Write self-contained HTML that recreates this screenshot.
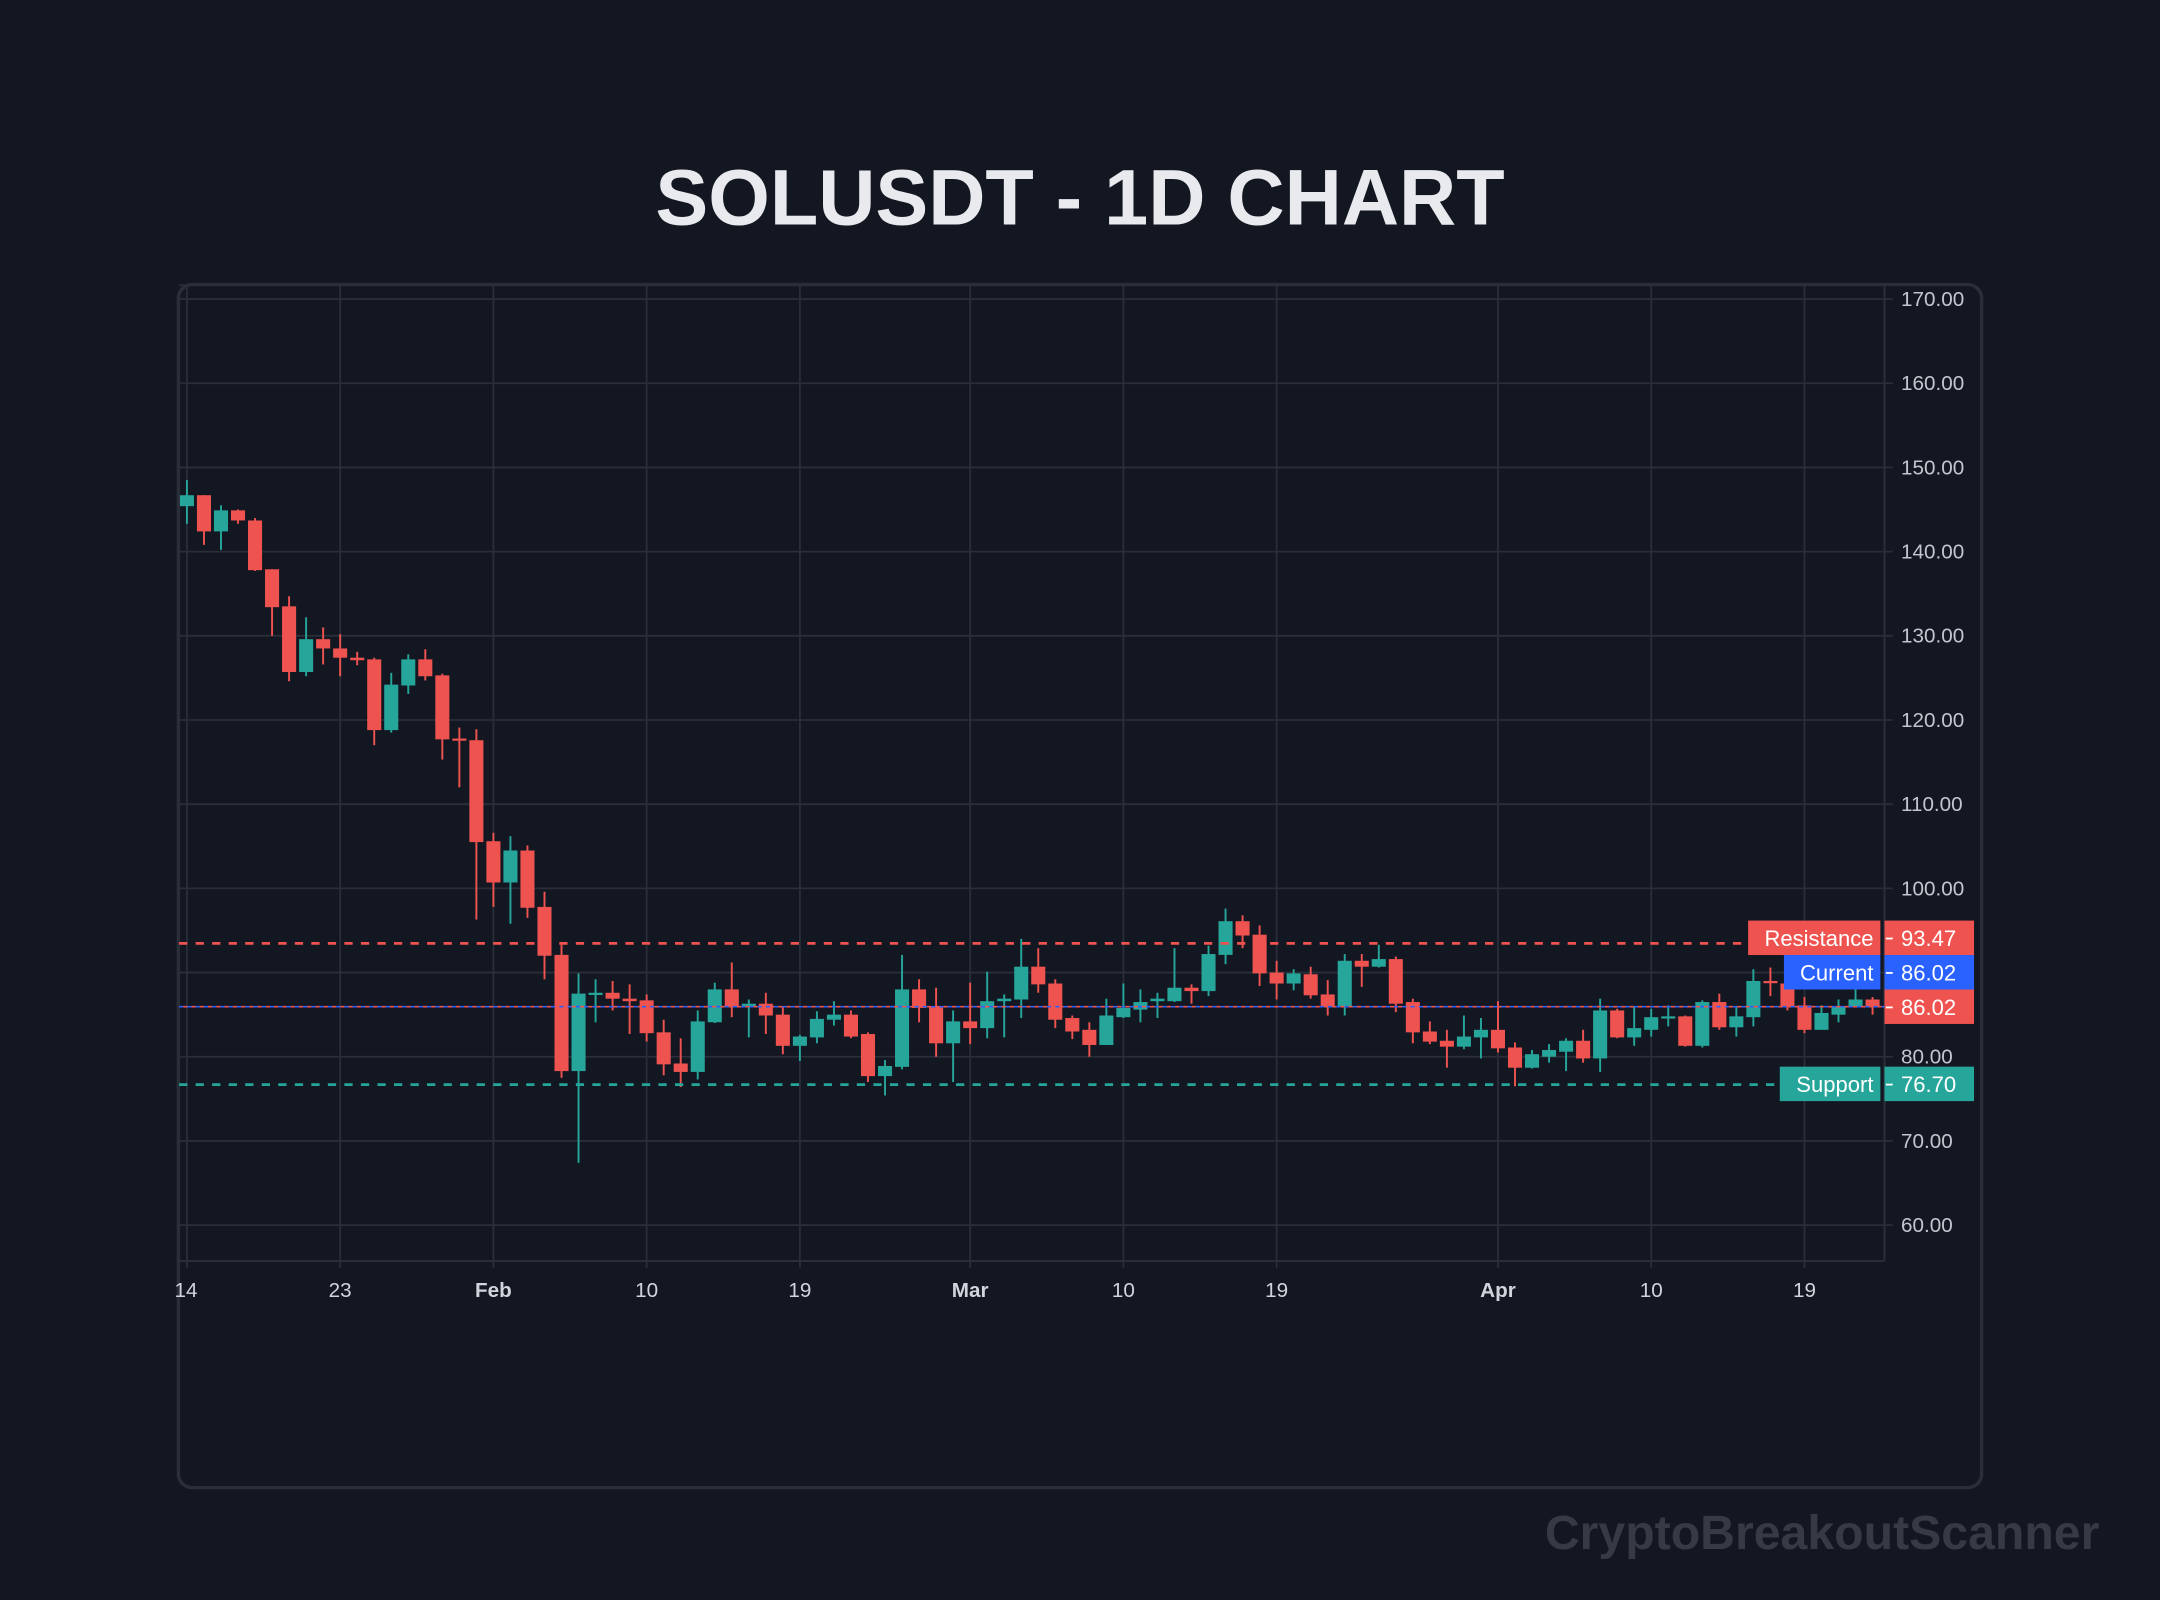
<!DOCTYPE html>
<html><head><meta charset="utf-8"><style>
html,body{margin:0;padding:0;background:#131722;}
svg{display:block;}
</style></head><body>
<svg id="s" width="2160" height="1600" viewBox="0 0 1568 1161" preserveAspectRatio="none" xmlns="http://www.w3.org/2000/svg" font-family="Liberation Sans, sans-serif">
<rect width="1568" height="1161" fill="#131722"/>
<text x="784" y="163" text-anchor="middle" font-size="57.5" font-weight="bold" fill="#e9eaee">SOLUSDT - 1D CHART</text>
<rect x="129.5" y="206.5" width="1309" height="873" rx="10" fill="none" stroke="#2a2e39" stroke-width="2.5"/>
<g id="grid" stroke="#2a2e39" stroke-width="1.3"></g>
<g id="ylab" font-size="15" fill="#c3c6ce"></g>
<g id="xlab" font-size="15" fill="#d1d4dc" text-anchor="middle"></g>
<line x1="130" y1="915" x2="1368" y2="915" stroke="#2a2e39" stroke-width="1.5"/>
<line x1="1368" y1="207" x2="1368" y2="915" stroke="#2a2e39" stroke-width="1.5"/>
<g id="c"></g>
<line x1="130" y1="684.5" x2="1269" y2="684.5" stroke="#ef5350" stroke-width="2" stroke-dasharray="6 6"/>
<line x1="130" y1="787" x2="1292" y2="787" stroke="#26a69a" stroke-width="2" stroke-dasharray="6 6"/>
<line x1="130" y1="730.5" x2="1368" y2="730.5" stroke="#2962ff" stroke-width="1.2" stroke-dasharray="3 3"/>
<line x1="133" y1="730.5" x2="1368" y2="730.5" stroke="#ef5350" stroke-width="1.2" stroke-dasharray="3 3"/>
<rect x="1269" y="668" width="96" height="25" fill="#ef5350"/>
<text x="1360" y="686.5" text-anchor="end" font-size="16" fill="#fff">Resistance</text>
<rect x="1368" y="668" width="65" height="25" fill="#ef5350"/>
<text x="1380" y="686.5" font-size="16" fill="#fff">93.47</text>
<rect x="1295" y="693" width="70" height="25" fill="#2962ff"/>
<text x="1360" y="711.5" text-anchor="end" font-size="16" fill="#fff">Current</text>
<rect x="1368" y="693" width="65" height="25" fill="#2962ff"/>
<text x="1380" y="711.5" font-size="16" fill="#fff">86.02</text>
<rect x="1368" y="718" width="65" height="25" fill="#ef5350"/>
<text x="1380" y="736.5" font-size="16" fill="#fff">86.02</text>
<rect x="1292" y="774" width="73" height="25" fill="#26a69a"/>
<text x="1360" y="792.5" text-anchor="end" font-size="16" fill="#fff">Support</text>
<rect x="1368" y="774" width="65" height="25" fill="#26a69a"/>
<text x="1380" y="792.5" font-size="16" fill="#fff">76.70</text>
<g stroke="#fff" stroke-width="1.3">
<line x1="1369" y1="681" x2="1374" y2="681"/><line x1="1369" y1="706" x2="1374" y2="706"/><line x1="1369" y1="731" x2="1374" y2="731"/><line x1="1369" y1="787" x2="1374" y2="787"/>
</g>
<text x="1524" y="1124" text-anchor="end" font-size="35" font-weight="bold" fill="#363a45">CryptoBreakoutScanner</text>
</svg>
<script>
var NS="http://www.w3.org/2000/svg";
function el(p,t,a,txt){var e=document.createElementNS(NS,t);for(var k in a)e.setAttribute(k,a[k]);if(txt)e.textContent=txt;p.appendChild(e);return e;}
function Y(p){return 217+(170-p)*6.109;}
var g=document.getElementById('grid'),yl=document.getElementById('ylab'),xl=document.getElementById('xlab');
for(var v=60;v<=170;v+=10){var y=Y(v);el(g,'line',{x1:130,y1:y,x2:1374,y2:y});el(yl,'text',{x:1380,y:y+5},v.toFixed(2));}
el(g,'line',{x1:130,y1:207,x2:1368,y2:207});
var X0=135.7,DX=12.36;
var ticks=[[0,'14',0],[9,'23',0],[18,'Feb',1],[27,'10',0],[36,'19',0],[46,'Mar',1],[55,'10',0],[64,'19',0],[77,'Apr',1],[86,'10',0],[95,'19',0]];
ticks.forEach(function(t){var x=X0+t[0]*DX;el(g,'line',{x1:x,y1:207,x2:x,y2:920});var tx=el(xl,'text',{x:x,y:941},t[1]);if(t[2])tx.setAttribute('font-weight','bold');if(t[0]==0){tx.setAttribute('x',135);}});
var d=[[145.4,148.5,143.3,146.7],[146.7,146.7,140.8,142.4],[142.4,145.5,140.2,144.9],[144.9,145.0,143.3,143.7],[143.7,144.0,137.7,137.8],[137.9,137.9,130.0,133.4],[133.5,134.7,124.6,125.7],[125.7,132.2,125.2,129.6],[129.6,131.0,126.6,128.5],[128.5,130.2,125.2,127.4],[127.4,128.1,126.5,127.1],[127.2,127.4,117.0,118.8],[118.8,125.6,118.5,124.2],[124.1,127.8,123.1,127.2],[127.2,128.4,124.7,125.2],[125.3,125.5,115.3,117.7],[117.8,119.1,112.0,117.6],[117.6,118.9,96.3,105.5],[105.6,106.6,97.8,100.7],[100.7,106.2,95.8,104.5],[104.5,105.1,96.5,97.7],[97.8,99.6,89.2,92.0],[92.1,93.4,77.5,78.3],[78.3,89.9,67.4,87.5],[87.5,89.2,84.1,87.6],[87.6,89.0,85.5,86.9],
[86.9,88.6,82.7,86.6],[86.7,87.4,81.8,82.8],[82.9,84.4,77.8,79.1],[79.2,82.2,76.4,78.2],[78.2,85.5,77.3,84.2],[84.1,88.8,84.0,88.0],[88.0,91.2,84.7,85.9],[86.0,86.8,82.3,86.3],[86.3,87.6,82.7,84.9],[85.0,85.9,80.3,81.3],[81.3,82.6,79.5,82.4],[82.3,85.4,81.6,84.5],[84.4,86.6,83.7,85.0],[85.0,85.5,82.2,82.4],[82.7,82.9,77.0,77.7],[77.7,79.6,75.4,78.9],[78.8,92.1,78.5,88.0],[88.0,89.2,84.1,85.8],[85.9,88.2,80.0,81.6],[81.6,85.5,77.0,84.2],[84.2,88.8,81.5,83.4],[83.4,90.1,82.2,86.6],[86.6,87.4,82.3,86.9],[86.8,94.0,84.6,90.7],[90.7,92.9,87.6,88.6],
[88.7,89.2,83.4,84.4],[84.6,84.9,82.1,83.0],[83.2,84.1,80.0,81.4],[81.4,86.9,81.4,84.9],[84.7,88.7,84.6,85.8],[85.6,88.0,84.1,86.5],[86.6,87.6,84.6,86.9],[86.6,92.9,86.5,88.2],[88.2,88.6,86.3,87.8],[87.8,93.2,87.2,92.2],[92.1,97.6,91.0,96.1],[96.1,96.8,92.9,94.4],[94.5,95.6,88.4,89.9],[90.0,91.4,86.8,88.7],[88.7,90.4,87.9,89.9],[89.8,90.7,86.9,87.3],[87.4,89.1,84.9,86.0],[86.0,92.2,84.9,91.4],[91.4,92.2,88.3,90.7],[90.7,93.3,90.6,91.6],[91.6,91.9,85.3,86.3],[86.5,86.9,81.6,82.9],[83.0,84.2,81.5,81.8],[81.9,83.2,78.7,81.2],[81.2,84.9,80.9,82.4],
[82.3,84.6,79.8,83.2],[83.2,86.6,80.5,81.0],[81.1,81.7,76.5,78.7],[78.7,80.8,78.6,80.3],[80.0,81.5,79.3,80.8],[80.6,82.2,78.3,81.9],[81.9,83.2,79.3,79.8],[79.8,86.9,78.2,85.5],[85.5,85.7,82.2,82.3],[82.3,85.9,81.3,83.4],[83.2,85.7,82.4,84.7],[84.6,86.1,83.6,84.8],[84.8,84.9,81.2,81.3],[81.3,86.7,81.1,86.5],[86.5,87.5,83.2,83.5],[83.5,85.9,82.4,84.8],[84.7,90.4,83.6,89.0],[89.0,90.6,87.2,88.8],[88.7,89.1,85.5,85.9],[86.1,87.1,82.8,83.2],[83.2,86.1,83.2,85.2],[85.0,86.8,84.1,86.0],[85.9,89.2,85.9,86.8],[86.8,87.1,85.0,86.0]];
var cg=document.getElementById('c');
d.forEach(function(k,i){var x=X0+i*DX,up=k[3]>=k[0],col=up?'#26a69a':'#ef5350';
el(cg,'rect',{x:x-0.7,y:Y(k[1]),width:1.4,height:Math.max(1,Y(k[2])-Y(k[1])),fill:col});
var t=Y(Math.max(k[0],k[3])),b=Y(Math.min(k[0],k[3]));var h=Math.max(1.6,b-t);
el(cg,'rect',{x:x-5.1,y:t,width:10.2,height:h,fill:col});});
</script>
</body></html>
